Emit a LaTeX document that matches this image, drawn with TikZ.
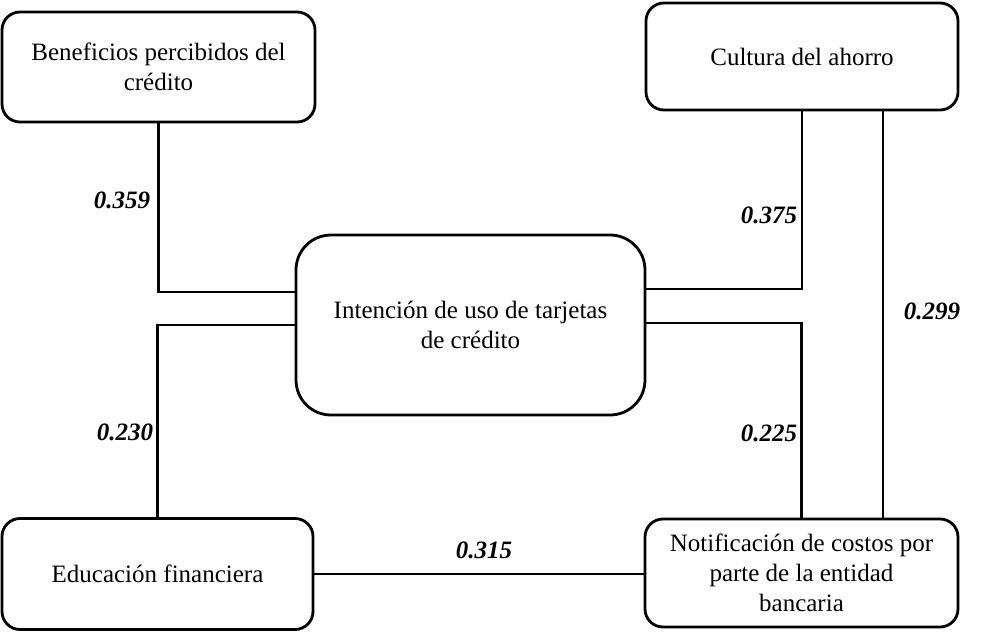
\documentclass[tikz,border=0pt]{standalone}
\usepackage{fontspec}
\setmainfont{Liberation Serif}
\usetikzlibrary{calc}
\begin{document}
\begin{tikzpicture}[x=1pt,y=-1pt,
  box/.style={draw=black,line width=2.8pt,rounded corners=18pt,align=center,
    font=\fontsize{25}{30}\selectfont,inner sep=0pt},
  conn/.style={line width=2.8pt},
  coef/.style={font=\fontsize{25}{28}\selectfont\bfseries\itshape,inner sep=0pt}]
\useasboundingbox (0,0) rectangle (988,634);
\node[box,minimum width=313pt,minimum height=110pt] (b) at (158.5,67) {Beneficios percibidos del\\crédito};
\node[box,minimum width=312pt,minimum height=107pt] (c) at (802,56.5) {Cultura del ahorro};
\node[box,minimum width=349pt,minimum height=180pt,rounded corners=35pt] (i) at (470.5,325) {Intención de uso de tarjetas\\de crédito};
\node[box,minimum width=311pt,minimum height=111pt] (e) at (157.5,574) {Educación financiera};
\node[box,minimum width=313pt,minimum height=108pt] (n) at (801.5,573) {Notificación de costos por\\parte de la entidad\\bancaria};
\draw[conn] (b.south) |- ([yshift=33pt]i.west);
\draw[conn] (i.west) -| (e.north);
\draw[conn] ([yshift=36pt]i.east) -| (c.south);
\draw[conn] ([yshift=2pt]i.east) -| (n.north);
\draw[conn] ([xshift=81pt]c.south) -- ([xshift=81.5pt]n.north);
\draw[conn] (e.east) -- (e.east -| n.west);
\node[coef] (l1) at (122,200) {0.359};
\node[coef] (l2) at (125,432) {0.230};
\node[coef] (l3) at (769,215) {0.375};
\node[coef] (l4) at (769,433) {0.225};
\node[coef] (l5) at (932,311) {0.299};
\node[coef] (l6) at (484,550) {0.315};
\end{tikzpicture}
\end{document}
